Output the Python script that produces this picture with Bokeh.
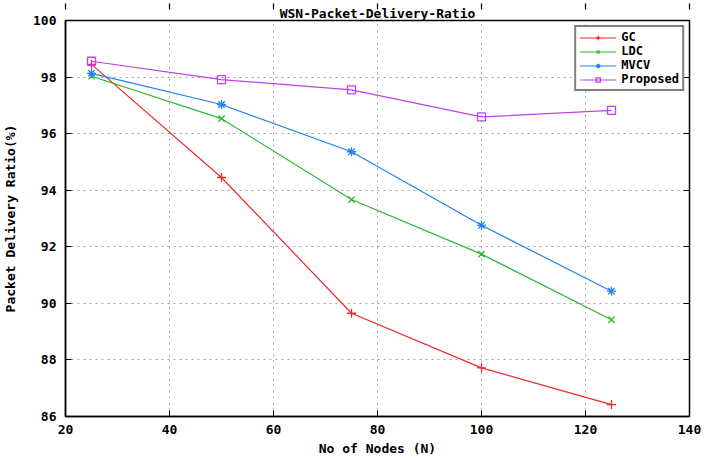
from bokeh.plotting import figure
from bokeh.models import LinearAxis, FixedTicker, Legend, LegendItem, Title
from bokeh.embed import file_html
from bokeh.resources import INLINE

nodes = [25, 50, 75, 100, 125]
gc = [98.45, 94.45, 89.65, 87.72, 86.42]
ldc = [98.03, 96.53, 93.67, 91.74, 89.42]
mvcv = [98.13, 97.03, 95.36, 92.76, 90.43]
proposed = [98.56, 97.91, 97.55, 96.59, 96.82]

x_ticks = [20, 40, 60, 80, 100, 120, 140]
y_ticks = [86, 88, 90, 92, 94, 96, 98, 100]

title_text = "WSN-Packet-Delivery-Ratio"
x_label = "No of Nodes (N)"
y_label = "Packet Delivery Ratio(%)"

FONT = "DejaVu Sans Mono"
FS = "13px"

p = figure(width=704, height=458, x_range=(20, 140), y_range=(86, 100),
           output_backend="svg", toolbar_location=None,
           min_border_left=58, min_border_right=15, min_border_top=20, min_border_bottom=42,
           x_axis_label=x_label, y_axis_label=y_label)
p.title = None
p.add_layout(Title(text=title_text, align="center", text_font=FONT, text_font_size=FS,
                   text_font_style="bold", text_color="black", offset=0, standoff=0), "above")

p.background_fill_color = "white"
p.border_fill_color = "white"
p.outline_line_color = "black"
p.outline_line_width = 1.5

for ax in [p.xaxis[0], p.yaxis[0]]:
    ax.axis_line_color = "black"
    ax.axis_line_width = 1.5
    ax.major_tick_in = 6
    ax.major_tick_out = 0
    ax.minor_tick_line_color = None
    ax.major_tick_line_color = "black"
    ax.major_label_text_font = FONT
    ax.major_label_text_font_size = FS
    ax.major_label_text_font_style = "bold"
    ax.major_label_text_color = "black"
    ax.axis_label_text_font = FONT
    ax.axis_label_text_font_size = FS
    ax.axis_label_text_font_style = "bold"
    ax.axis_label_text_color = "black"

p.xaxis[0].ticker = FixedTicker(ticks=x_ticks)
p.yaxis[0].ticker = FixedTicker(ticks=y_ticks)
p.xaxis[0].major_label_standoff = 8
p.xaxis[0].axis_label_standoff = 4
p.yaxis[0].major_label_standoff = 9
p.yaxis[0].axis_label_standoff = 12

# mirrored ticks (no labels drawn)
top = LinearAxis(ticker=FixedTicker(ticks=x_ticks), major_tick_in=6, major_tick_out=0,
                 minor_tick_line_color=None, major_label_text_font_size="1px",
                 major_label_text_color=None, major_label_standoff=0,
                 axis_line_color=None, major_tick_line_color="black", major_tick_line_width=1.2)
right = LinearAxis(ticker=FixedTicker(ticks=y_ticks), major_tick_in=6, major_tick_out=0,
                   minor_tick_line_color=None, major_label_text_font_size="1px",
                   major_label_text_color=None, major_label_standoff=0,
                   axis_line_color=None, major_tick_line_color="black", major_tick_line_width=1.2)
p.add_layout(top, "above")
p.add_layout(right, "right")

p.xgrid.ticker = FixedTicker(ticks=x_ticks)
p.ygrid.ticker = FixedTicker(ticks=y_ticks)
for g in [p.xgrid[0], p.ygrid[0]]:
    g.grid_line_color = "#a0a0a0"
    g.grid_line_dash = "2 4"
    g.grid_line_width = 1

series = [
    ("GC", gc, "#f02828", "cross"),
    ("LDC", ldc, "#2db82d", "x"),
    ("MVCV", mvcv, "#2080ff", "asterisk"),
    ("Proposed", proposed, "#c040f0", "square"),
]

items = []
for name, ys, color, marker in series:
    ln = p.line(nodes, ys, line_color=color, line_width=1.2)
    mk = p.scatter(nodes, ys, marker=marker, size=9 if marker != "square" else 8,
                   line_color=color, fill_color=None, line_width=1.3)
    items.append(LegendItem(label=name, renderers=[ln, mk]))

legend = Legend(items=items, location="top_right", margin=5,
                label_text_font=FONT, label_text_font_size="12px", label_text_font_style="bold",
                label_text_color="black", glyph_width=37, glyph_height=11, label_height=11,
                spacing=0, padding=3, label_standoff=5,
                border_line_color="black", border_line_width=2.5,
                background_fill_color="white", background_fill_alpha=1)
p.add_layout(legend)

open("out.html", "w").write(file_html(p, INLINE))
